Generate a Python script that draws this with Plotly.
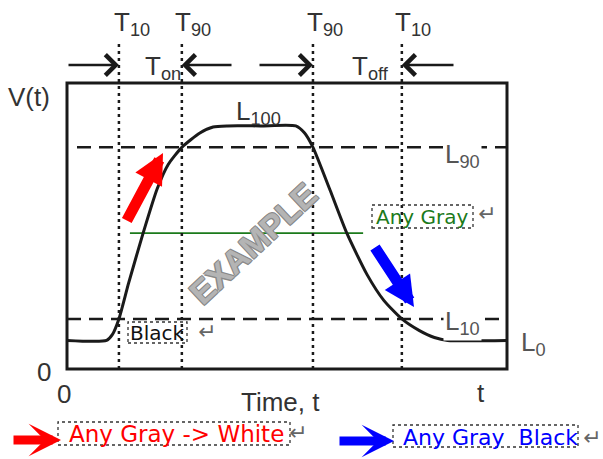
import plotly.graph_objects as go

# ---- data ----
time = [0, 9.0, 10.3, 11.8, 14.0, 17.3, 20.5, 23.0, 26.1, 30.2, 33.2, 36.5, 44.0,
        52.0, 54.0, 55.9, 59.8, 63.6, 68.2, 72.0, 76.1, 80.0, 83.5, 86.5, 100]
voltage = [10, 10, 12, 17.5, 30, 47.5, 63, 71.5, 77.5, 82.5, 84.6, 85, 85,
           85, 82.5, 77.5, 62.5, 47.5, 33, 24, 17.5, 13.5, 11, 10, 10]
level_names = ["L<sub>0</sub>", "L<sub>10</sub>", "L<sub>90</sub>", "L<sub>100</sub>"]
level_values = [10, 17.5, 77.5, 85]
gray_level = 47.5
gray_span = [14.3, 67.3]
t_marks = [11.8, 26.1, 55.9, 76.1]
t_subs = ["10", "90", "90", "10"]
T_END = 100
V_TOP = 100

# ---- pixel helpers for placing decorations ----
PX_X0, PX_PER_X, PX_Y0, PX_PER_Y = 67, 4.4, 369, 2.86
W, H = 603, 459
def X(px):
    return (px - PX_X0) / PX_PER_X
def Y(py):
    return (PX_Y0 - py) / PX_PER_Y

FONT = "Liberation Sans, Arial, sans-serif"
BOXFONT = "DejaVu Sans, Verdana, sans-serif"
INK = "#1a1a1a"
GRAYTXT = "#555555"

fig = go.Figure()

# green gray-level line
fig.add_trace(go.Scatter(x=gray_span, y=[gray_level, gray_level], mode="lines",
                         line=dict(color="#1b7a1b", width=1.6), hoverinfo="skip"))
# response curve
fig.add_trace(go.Scatter(x=time, y=voltage, mode="lines",
                         line=dict(color=INK, width=3, shape="spline", smoothing=0.6),
                         hoverinfo="skip"))

shapes = []
# frame
shapes.append(dict(type="rect", xref="x", yref="y", x0=0, x1=T_END, y0=0, y1=V_TOP,
                   line=dict(color=INK, width=3), layer="above"))
# dotted verticals
for t in t_marks:
    shapes.append(dict(type="line", xref="x", yref="y", x0=t, x1=t, y0=0, y1=Y(43),
                       line=dict(color=INK, width=2.5, dash="3px,4px")))
# dashed levels
shapes.append(dict(type="line", xref="x", yref="y", x0=X(77), x1=T_END, y0=level_values[2], y1=level_values[2],
                   line=dict(color=INK, width=2.5, dash="14px,8px")))
shapes.append(dict(type="line", xref="x", yref="y", x0=0, x1=T_END, y0=level_values[1], y1=level_values[1],
                   line=dict(color=INK, width=2.5, dash="14px,8px")))
# dotted boxes around colored texts
for (a, b, c, d) in [(372, 473, 205, 228), (128, 187, 322, 343), (58, 290, 422, 445), (393, 578, 425, 447)]:
    shapes.append(dict(type="rect", xref="x", yref="y", x0=X(a), x1=X(b), y0=Y(d), y1=Y(c),
                       line=dict(color="#333", width=1.3, dash="dot")))

ann = []
def label(px, py, text, size=26, color=INK, xanchor="center", yanchor="middle", family=FONT, **kw):
    ann.append(dict(x=X(px), y=Y(py), xref="x", yref="y", text=text, showarrow=False,
                    font=dict(family=family, size=size, color=color),
                    xanchor=xanchor, yanchor=yanchor, **kw))

label(6, 97, "V(t)", xanchor="left", color="#333")
label(44, 372, "0", color="#333")
label(64, 394, "0", color="#333")
label(280, 402, "Time, t", color="#333")
label(481, 393, "t", color="#333")

# T labels
for t, s, left in zip(t_marks, t_subs, [112, 173, 305, 393]):
    label(left, 23, "T<sub>" + s + "</sub>", xanchor="left", color="#333")
label(143, 67, "T<sub>on</sub>", xanchor="left", color="#333")
label(350, 67, "T<sub>off</sub>", xanchor="left", color="#333")

# level labels
label(533, 343, level_names[0], color=GRAYTXT)
label(462, 322, level_names[1], color=GRAYTXT, bgcolor="white")
label(462, 155, level_names[2], color=GRAYTXT, bgcolor="white")
label(258, 112, level_names[3], color="#333")

# watermark
ann.append(dict(x=X(253), y=Y(243), xref="x", yref="y", text="<b>EXAMPLE</b>", showarrow=False,
                textangle=-43,
                font=dict(family=FONT, size=33, color="#b4b4b4",
                          shadow="1px 1px 0 #8a8a8a, -1px -1px 0 #8a8a8a, 1px -1px 0 #8a8a8a, -1px 1px 0 #8a8a8a")))

# colored boxed texts
label(422, 217, "Any Gray", size=20, color="#1b7a1b", family=BOXFONT)
label(157, 333, "Black", size=20, color="#111", family=BOXFONT)
label(176, 434, "Any Gray -&gt; White", size=23, color="#ff0000", family=BOXFONT)
label(490, 437, "Any Gray  Black", size=22, color="#0000ff", family=BOXFONT)
for (px, py) in [(487, 213), (207, 331), (298, 432), (592, 437)]:
    label(px, py, "↵", size=22, color="#666", family=BOXFONT)

# arrows
def arrow(tx, ty, sx, sy, color, width, head, size):
    ann.append(dict(x=tx, y=ty, ax=sx, ay=sy, xref="x", yref="y", axref="x", ayref="y",
                    text="", showarrow=True, arrowhead=head, arrowsize=size,
                    arrowwidth=width, arrowcolor=color, standoff=0))

arrow(t_marks[0], Y(65), 0, Y(65), INK, 2.5, 4, 1.6)
arrow(t_marks[1], Y(65), X(233), Y(65), INK, 2.5, 4, 1.6)
arrow(t_marks[2], Y(65), X(258), Y(65), INK, 2.5, 4, 1.6)
arrow(t_marks[3], Y(65), X(455), Y(65), INK, 2.5, 4, 1.6)

arrow(X(163), Y(153), X(126), Y(222), "#ff0000", 11, 2, 0.55)
arrow(X(414), Y(307), X(374), Y(246), "#0000ff", 11, 2, 0.55)
arrow(X(61), Y(440), X(12), Y(440), "#ff0000", 9, 3, 0.6)
arrow(X(394), Y(441), X(338), Y(441), "#0000ff", 9, 3, 0.6)

fig.update_layout(
    width=W, height=H, margin=dict(l=0, r=0, t=0, b=0),
    paper_bgcolor="white", plot_bgcolor="white", showlegend=False,
    xaxis=dict(range=[X(0), X(W)], visible=False, fixedrange=True),
    yaxis=dict(range=[Y(H), Y(0)], visible=False, fixedrange=True),
    shapes=shapes, annotations=ann,
)
fig.write_html("out.html", config={"displayModeBar": False},
               post_script="document.body.style.margin='0';document.body.style.overflow='hidden';")
